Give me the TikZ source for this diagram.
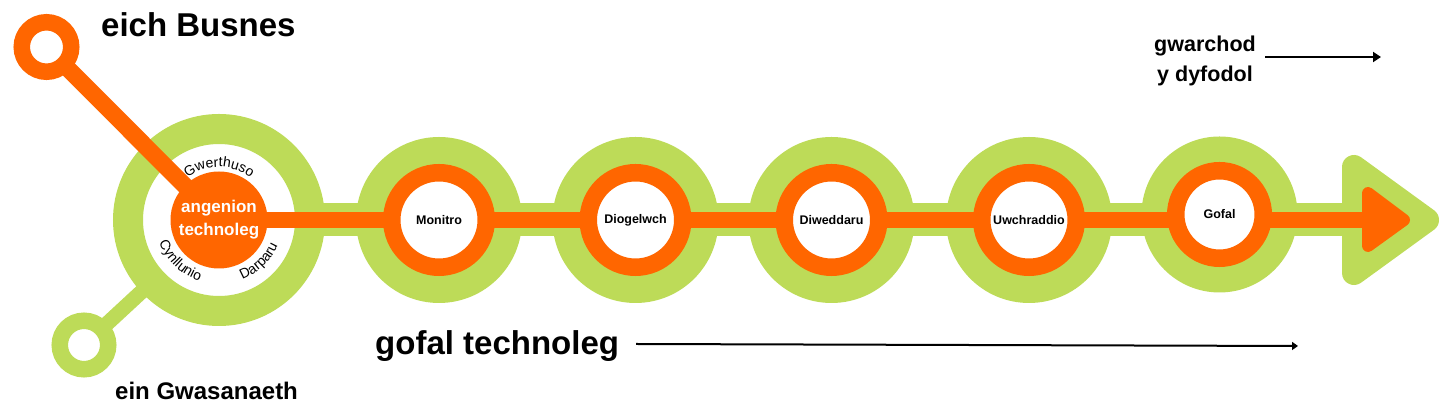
\documentclass[tikz,border=0pt]{standalone}
\usepackage{fontspec}
\setmainfont{Liberation Sans}
\usetikzlibrary{arrows.meta,decorations.text}
\definecolor{tgreen}{RGB}{189,219,88}
\definecolor{torange}{RGB}{255,102,0}
\begin{document}
\begin{tikzpicture}[x=1pt,y=1pt,
  grail/.style={draw=tgreen, line width=33pt},
  glink/.style={draw=tgreen, line width=15pt},
  orail/.style={draw=torange, line width=16.5pt},
  olink/.style={draw=torange, line width=17pt},
  hubring/.style={circle, draw=tgreen, line width=30pt, fill=white, minimum size=182pt, inner sep=0pt},
  gdisc/.style={circle, fill=tgreen, minimum size=166pt, inner sep=0pt},
  stationring/.style={circle, draw=torange, line width=17.5pt, fill=white, minimum size=94.5pt, inner sep=0pt, font=\fontsize{12.5}{15}\selectfont\bfseries},
  hubdisc/.style={circle, fill=torange, minimum size=97pt, inner sep=0pt, text=white, align=center, font=\fontsize{17}{23}\selectfont\bfseries},
  endring/.style={circle, line width=16.5pt, fill=white, inner sep=0pt},
  bigtext/.style={inner sep=0pt, font=\fontsize{33}{40}\selectfont\bfseries},
  arcword/.style={decorate, decoration={text along path, text align=center, text={|\fontsize{14}{16}\selectfont|#1}}},
  blackarrow/.style={draw=black, line width=#1}
]
\useasboundingbox (0,0) rectangle (1440,411);

% key points
\coordinate (c0) at (219,191);
\coordinate (c1) at (439,191);
\coordinate (c2) at (635.5,191);
\coordinate (c3) at (831.5,191);
\coordinate (c4) at (1029,191);
\coordinate (c5) at (1219.5,196.5);
\coordinate (tl) at (46.5,364);
\coordinate (bl) at (84,66);
\coordinate (endG) at (1380,191);
\coordinate (endO) at (1385,191);

% green layer
\draw[grail] (c0) -- (endG);
\draw[glink] (bl) -- (c0);
\node[hubring] (hub) at (c0) {};
\node[gdisc] (g1) at (c1) {};
\node[gdisc] (g2) at (c2) {};
\node[gdisc] (g3) at (c3) {};
\node[gdisc] (g4) at (c4) {};
\node[gdisc, minimum size=156pt] (g5) at (c5) {};
\fill[tgreen, draw=tgreen, line width=24pt, line join=round] (1354,244) -- (1427,191) -- (1354,138) -- cycle;
\node[endring, draw=tgreen, minimum size=48.5pt] (bln) at (bl) {};

% orange layer
\draw[orail] (c0) -- (c1) -- (c2) -- (c3) -- (c4) -- (endO);
\draw[olink] (tl) -- (c0);
\fill[torange, draw=torange, line width=12pt, line join=round] (1368,218) -- (1404,191) -- (1368,165) -- cycle;
\node[stationring] (s1) at (c1) {Monitro};
\node[stationring] (s2) at (c2) {Diogelwch};
\node[stationring] (s3) at (c3) {Diweddaru};
\node[stationring] (s4) at (c4) {Uwchraddio};
\node[stationring, minimum size=87.5pt] (s5) at (c5) {Gofal};
\node[hubdisc] (hubc) at (c0) {angenion\\technoleg};
\node[endring, draw=torange, minimum size=49.5pt] (tln) at (tl) {};

% curved words
\path[arcword=Gwerthuso] ([shift={(150:53)}]c0) arc[start angle=150, end angle=30, radius=53];
\path[arcword=Cynllunio] ([shift={(180:64)}]c0) arc[start angle=180, end angle=273, radius=64];
\path[arcword=Darparu] ([shift={(267:64)}]c0) arc[start angle=267, end angle=361, radius=64];

% labels
\node[bigtext, anchor=base west] (eich) at (101,374) {eich Busnes};
\node[inner sep=0pt, anchor=base west, font=\fontsize{24}{28}\selectfont\bfseries] (ein) at (115,11) {ein Gwasanaeth};
\node[bigtext, anchor=base west] (gofal) at (375,56) {gofal technoleg};
\node[inner sep=0pt, anchor=base, font=\fontsize{21.5}{26}\selectfont\bfseries] (gw1) at (1205,359) {gwarchod};
\node[inner sep=0pt, anchor=base, font=\fontsize{21.5}{26}\selectfont\bfseries] (gw2) at (1205,329) {y dyfodol};

% arrows
\coordinate (ga) at (1265,354);
\coordinate (gb) at (1381,354);
\draw[blackarrow=2.8pt, -{Triangle[length=8pt,width=10pt]}] (ga) -- (gb);
\coordinate (ta) at (636,67);
\coordinate (tb) at (1298,65);
\draw[blackarrow=2pt, -{Triangle[length=6pt,width=8pt]}] (ta) -- (tb);
\end{tikzpicture}
\end{document}
